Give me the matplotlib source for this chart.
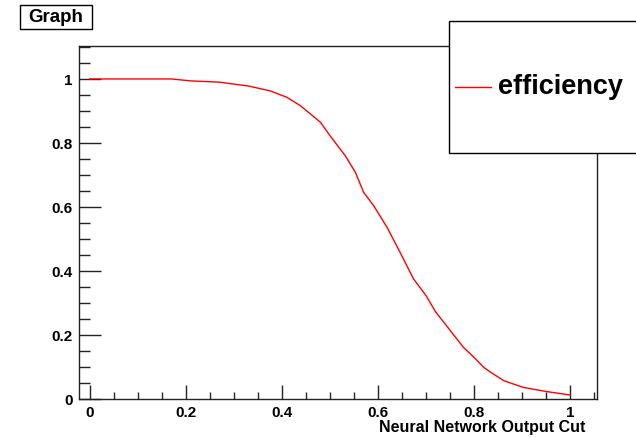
import numpy as np
import matplotlib
matplotlib.use("Agg")
import matplotlib.pyplot as plt
from matplotlib.patches import Rectangle
from matplotlib.lines import Line2D
from matplotlib.ticker import MultipleLocator, FuncFormatter

# efficiency vs neural network output cut
cut = [0.0, 0.05, 0.10, 0.15, 0.17, 0.21, 0.27, 0.33, 0.375, 0.41, 0.438, 0.46,
       0.48, 0.50, 0.532, 0.553, 0.57, 0.591, 0.619, 0.646, 0.674, 0.70, 0.72,
       0.74, 0.778, 0.80, 0.82, 0.834, 0.862, 0.903, 0.952, 1.0]
efficiency = [1.0, 1.0, 1.0, 1.0, 1.0, 0.994, 0.99, 0.978, 0.963, 0.943, 0.917, 0.89,
              0.865, 0.823, 0.76, 0.708, 0.646, 0.604, 0.536, 0.458, 0.375, 0.323, 0.272,
              0.234, 0.161, 0.13, 0.099, 0.084, 0.057, 0.036, 0.023, 0.0125]

xlabel = "Neural Network Output Cut"
title = "Graph"
legend_label = "efficiency"

plt.rcParams["font.family"] = ["Liberation Sans", "DejaVu Sans"]
plt.rcParams["font.weight"] = "bold"

W, H = 636, 439
fig = plt.figure(figsize=(W / 100, H / 100), dpi=100)
ax = fig.add_axes([79 / W, 1 - 400 / H, (597 - 79) / W, (400 - 47) / H])

ax.plot(cut, efficiency, color="red", lw=1.0)

ax.set_xlim(-0.0223, 1.0558)
ax.set_ylim(0, 1.103)
ax.xaxis.set_major_locator(MultipleLocator(0.2))
ax.xaxis.set_minor_locator(MultipleLocator(0.05))
ax.yaxis.set_major_locator(MultipleLocator(0.2))
ax.yaxis.set_minor_locator(MultipleLocator(0.05))
ax.xaxis.set_major_formatter(FuncFormatter(lambda v, p: f"{v:g}"))
ax.yaxis.set_major_formatter(FuncFormatter(lambda v, p: f"{v:g}"))

frame_col = "#222222"
for s in ax.spines.values():
    s.set_color(frame_col)
    s.set_linewidth(1.0)
ax.tick_params(which="both", direction="in", colors=frame_col, labelcolor="black",
               labelsize=11, top=False, right=False, width=1.0)
ax.tick_params(axis="y", which="major", length=16, pad=4.5)
ax.tick_params(axis="y", which="minor", length=8)
ax.tick_params(axis="x", which="major", length=10, pad=4.5)
ax.tick_params(axis="x", which="minor", length=5)
for lab in ax.get_xticklabels() + ax.get_yticklabels():
    lab.set_fontweight("bold")

fig.text(585 / W, 1 - 428 / H, xlabel, ha="right", va="center", fontsize=11.5,
         fontweight="bold")

# title box
fig.add_artist(Rectangle((20 / W, 1 - 30 / H), 72 / W, 24 / H, transform=fig.transFigure,
                         fc="white", ec="black", lw=1.0))
fig.text(56 / W, 1 - 18 / H, title, ha="center", va="center", fontsize=13.5,
         fontweight="bold")

# legend box (runs off the right edge, as in the reference)
fig.add_artist(Rectangle((449 / W, 1 - 154 / H), 200 / W, 132 / H,
                         transform=fig.transFigure, fc="white", ec="black", lw=1.0, zorder=5))
fig.add_artist(Line2D([455 / W, 491 / W], [1 - 88 / H, 1 - 88 / H],
                      transform=fig.transFigure, color="red", lw=1.0, zorder=6))
fig.text(498 / W, 1 - 87 / H, legend_label, ha="left", va="center", fontsize=19.5,
         fontweight="bold", zorder=6)

fig.savefig("out.png", dpi=100)
